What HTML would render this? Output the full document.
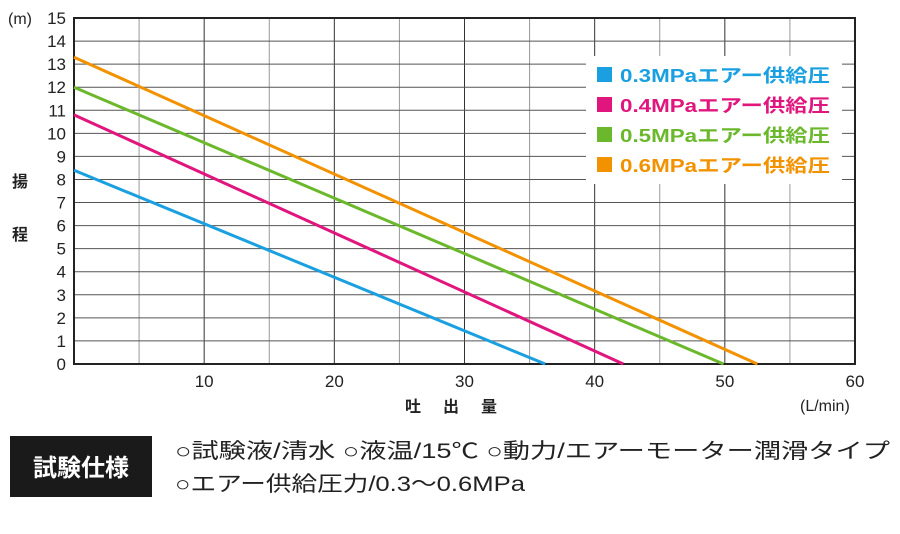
<!DOCTYPE html>
<html><head><meta charset="utf-8"><style>
body{margin:0;background:#fff;width:900px;height:529px;overflow:hidden;font-family:"Liberation Sans","Noto Sans CJK JP",sans-serif}
</style></head><body>
<svg width="900" height="529" xmlns="http://www.w3.org/2000/svg" font-family="Liberation Sans, Noto Sans CJK JP, sans-serif">
<g id="grid"></g>
<g id="series"></g>
<g id="ticks" font-size="17" fill="#222"></g>
<text x="8" y="24" font-size="16" fill="#222">(m)</text>
<text x="12" y="187" font-size="16" font-weight="bold" fill="#222">揚</text>
<text x="12" y="240" font-size="16" font-weight="bold" fill="#222">程</text>
<text x="405" y="412" font-size="16" font-weight="bold" fill="#222" letter-spacing="22">吐出量</text>
<text x="800" y="411" font-size="16" fill="#222">(L/min)</text>
<g id="legend">
<rect x="586" y="56" width="256" height="128" fill="#fff"/>
</g>
<rect x="10" y="436" width="142" height="61" fill="#1a1a1a"/>
<text x="81" y="476" font-size="24" font-weight="bold" fill="#fff" text-anchor="middle">試験仕様</text>
<text x="175" y="458" font-size="21" fill="#222" textLength="715" lengthAdjust="spacingAndGlyphs">○試験液/清水 ○液温/15℃ ○動力/エアーモーター潤滑タイプ</text>
<text x="175" y="491" font-size="21" fill="#222" textLength="350" lengthAdjust="spacingAndGlyphs">○エアー供給圧力/0.3〜0.6MPa</text>
</svg>
<script>
const xTicks=[10,20,30,40,50,60];
const yTicks=[0,1,2,3,4,5,6,7,8,9,10,11,12,13,14,15];
const seriesNames=["0.3MPaエアー供給圧","0.4MPaエアー供給圧","0.5MPaエアー供給圧","0.6MPaエアー供給圧"];
const seriesColors=["#1aa0e0","#e0167e","#6cb82c","#f39200"];
const startHeads=[8.4,10.8,12.0,13.3];
const zeroFlows=[36.2,42.2,49.9,52.5];
const L=74,R=855,T=18,B=364;
const sx=v=>L+(R-L)*v/60, sy=v=>B-(B-T)*v/15;
const NS="http://www.w3.org/2000/svg";
function mk(tag,attrs,parent){const e=document.createElementNS(NS,tag);for(const k in attrs)e.setAttribute(k,attrs[k]);parent.appendChild(e);return e;}
const grid=document.getElementById('grid');
for(let v=5;v<60;v+=5){const l=mk('line',{x1:sx(v),x2:sx(v),y1:T,y2:B,stroke:v%10?'#999':'#333','stroke-width':1},grid);

}
for(let v=1;v<15;v++){const l=mk('line',{x1:L,x2:R,y1:sy(v),y2:sy(v),stroke:'#555','stroke-width':1},grid);

}
const fr=mk('rect',{x:L,y:T,width:R-L,height:B-T,fill:'none',stroke:'#222','stroke-width':2},grid);


const ticks=document.getElementById('ticks');
yTicks.forEach(v=>{const t=mk('text',{x:L-8,y:sy(v)+6,'text-anchor':'end'},ticks);t.textContent=v;

});
xTicks.forEach(v=>{const t=mk('text',{x:sx(v),y:387,'text-anchor':'middle'},ticks);t.textContent=v;

});
const ser=document.getElementById('series'),leg=document.getElementById('legend');
seriesNames.forEach((n,i)=>{
const l=mk('line',{x1:sx(0),y1:sy(startHeads[i]),x2:sx(zeroFlows[i]),y2:sy(0),stroke:seriesColors[i],'stroke-width':3},ser);


const y=75+i*30;
const r=mk('rect',{x:597,y:y-8,width:15,height:15,fill:seriesColors[i]},leg);


const t=mk('text',{x:620,y:y+7,'font-size':18,'font-weight':'bold',fill:seriesColors[i],textLength:210,lengthAdjust:'spacingAndGlyphs'},leg);t.textContent=n;


});
</script>
</body></html>
